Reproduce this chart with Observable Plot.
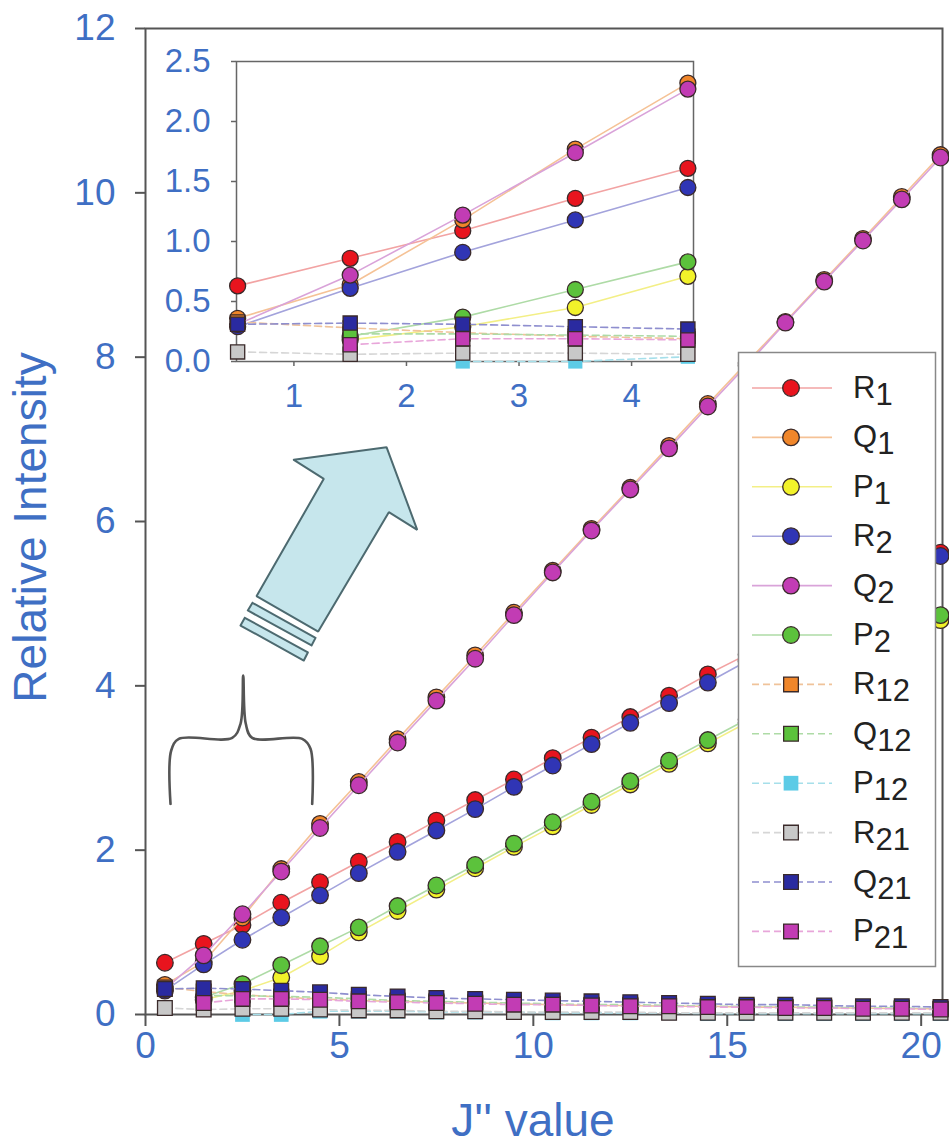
<!DOCTYPE html>
<html>
<head>
<meta charset="utf-8">
<script src="https://cdn.jsdelivr.net/npm/d3@7"></script>
<script src="https://cdn.jsdelivr.net/npm/@observablehq/plot@0.6"></script>
<style>
html,body{margin:0;padding:0;background:#fff;}
#wrap{position:relative;width:949px;height:1144px;overflow:hidden;background:#fff;}
#wrap svg{position:absolute;overflow:visible;}
</style>
</head>
<body>
<div id="wrap"></div>
<script>
// ---------- data ----------
const J = [0.5,1.5,2.5,3.5,4.5,5.5,6.5,7.5,8.5,9.5,10.5,11.5,12.5,13.5,14.5,15.5,16.5,17.5,18.5,19.5,20.5];

const R1  = [0.63,0.86,1.09,1.36,1.61,1.86,2.10,2.36,2.61,2.86,3.12,3.37,3.62,3.88,4.14,4.38,4.62,4.87,5.12,5.37,5.62];
const Q1  = [0.36,0.64,1.18,1.77,2.32,2.83,3.35,3.86,4.37,4.89,5.40,5.91,6.41,6.92,7.43,7.93,8.43,8.94,9.44,9.95,10.46];
const P1  = [null,0.18,0.29,0.45,0.71,1.00,1.26,1.52,1.78,2.04,2.29,2.55,2.80,3.05,3.30,3.55,3.80,4.05,4.30,4.55,4.80];
const R2  = [0.29,0.61,0.91,1.18,1.45,1.72,1.98,2.24,2.50,2.77,3.03,3.29,3.55,3.79,4.04,4.30,4.56,4.82,5.08,5.33,5.58];
const Q2  = [0.31,0.72,1.22,1.74,2.27,2.79,3.31,3.82,4.33,4.86,5.38,5.89,6.39,6.89,7.40,7.90,8.42,8.92,9.42,9.92,10.43];
const P2  = [null,0.21,0.37,0.60,0.83,1.06,1.32,1.57,1.82,2.08,2.34,2.59,2.84,3.09,3.34,3.59,3.85,4.10,4.35,4.60,4.86];
const R12 = [0.33,0.28,0.24,0.21,0.19,0.17,0.16,0.15,0.14,0.13,0.12,0.11,0.11,0.10,0.10,0.09,0.09,0.08,0.08,0.07,0.07];
const Q12 = [null,0.23,0.23,0.22,0.21,0.19,0.17,0.16,0.15,0.14,0.13,0.12,0.12,0.11,0.10,0.10,0.09,0.09,0.08,0.08,0.07];
const P12 = [null,null,0.00,0.00,0.04,0.04,0.04,0.03,0.03,0.03,0.02,0.02,0.02,0.02,0.01,0.01,0.01,0.01,0.01,0.01,0.01];
const R21 = [0.08,0.06,0.07,0.07,0.06,0.05,0.05,0.04,0.04,0.03,0.03,0.03,0.03,0.02,0.02,0.02,0.02,0.02,0.02,0.02,0.02];
const Q21 = [0.31,0.32,0.31,0.29,0.27,0.24,0.22,0.20,0.19,0.18,0.17,0.16,0.15,0.14,0.13,0.12,0.12,0.11,0.10,0.10,0.09];
const P21 = [null,0.14,0.19,0.19,0.18,0.16,0.15,0.14,0.13,0.12,0.12,0.11,0.10,0.10,0.09,0.09,0.08,0.08,0.07,0.07,0.06];

const seriesLetters = ["R","Q","P","R","Q","P","R","Q","P","R","Q","P"];
const seriesSubs    = ["1","1","1","2","2","2","12","12","12","21","21","21"];
const seriesValues  = [R1,Q1,P1,R2,Q2,P2,R12,Q12,P12,R21,Q21,P21];

const mainXTicks  = [0,5,10,15,20];
const mainYTicks  = [0,2,4,6,8,10,12];
const insetXTicks = [1,2,3,4];
const insetYTicks = [0,0.5,1,1.5,2,2.5];
const xTitle = "J'' value";
const yTitle = "Relative Intensity";

// annotation shapes (in main-chart data units)
const arrowX = [3.824,6.215,7.006,6.274,4.453,2.862,4.598,3.824];
const arrowY = [6.751,6.904,5.899,6.113,4.661,5.091,6.519,6.751];
const band1X = [2.759,4.384,4.281,2.638,2.759];
const band1Y = [5.010,4.584,4.491,4.917,5.010];
const band2X = [2.561,4.186,4.082,2.450,2.561];
const band2Y = [4.828,4.406,4.308,4.734,4.828];
const braceX = [0.645,0.663,0.859,2.236,2.450,2.519,2.586,2.751,4.041,4.255,4.298];
const braceY = [2.564,3.213,3.355,3.367,3.538,4.126,3.538,3.367,3.355,3.234,2.564];

// ---------- styles ----------
const blue = "#3f6fc4";
const font = "'Liberation Sans', Arial, sans-serif";
const lineColors   = ["#f2a3a3","#f5c296","#f3ef86","#a3a3dc","#d9a3d9","#aedba6",
                      "#f0c39a","#aedba6","#a6dfea","#d6d6d6","#8f8fcf","#e8a6da"];
const markerFills  = ["#e8141e","#f0862a","#f2f22a","#3035b5","#c23cb4","#5cc23c",
                      "#f0862a","#5cc23c","#5ccbe6","#c8c8c8","#2a2aa0","#c23cb4"];
const symbols = ["circle","circle","circle","circle","circle","circle",
                 "square","square","square","square","square","square"];
const dashed  = [false,false,false,false,false,false,true,true,true,true,true,true];
const edge = "#3a2a2a";

function rows(vals, maxJ) {
  return J.map((j,i) => ({j, v: vals[i]})).filter(p => p.v != null && p.j <= maxJ);
}
function seriesMarks(maxJ, r) {
  const marks = [];
  seriesValues.forEach((vals, k) => {
    const d = rows(vals, maxJ);
    const lo = {x:"j", y:"v", stroke: lineColors[k], strokeWidth: 1.6};
    if (dashed[k]) lo.strokeDasharray = "7,4";
    marks.push(Plot.line(d, lo));
    marks.push(Plot.dot(d, {x:"j", y:"v", symbol: symbols[k], r,
      fill: markerFills[k], stroke: k === 8 ? "none" : edge, strokeWidth: 1.3}));
  });
  return marks;
}
function poly(xs, ys) { return xs.map((x,i) => ({x, y: ys[i]})); }

// ---------- main chart ----------
const main = Plot.plot({
  width: 949, height: 1144,
  marginLeft: 145, marginRight: 7, marginTop: 28, marginBottom: 130,
  x: {domain: [0, 20.55]},
  y: {domain: [0, 12]},
  style: {fontFamily: font, background: "transparent", overflow: "visible"},
  marks: [
    Plot.frame({stroke: "#555", strokeWidth: 2}),
    Plot.axisY({ticks: mainYTicks, tickSize: 10, tickPadding: 20, fontSize: 37,
      fill: blue, stroke: "#555", strokeWidth: 2, label: null}),
    Plot.axisX({ticks: mainXTicks, tickSize: 12, tickPadding: 5, fontSize: 37,
      fill: blue, stroke: "#555", strokeWidth: 2, label: null}),
    Plot.line(poly(arrowX, arrowY), {x:"x", y:"y", fill:"#c6e6ec", stroke:"#4d6a70", strokeWidth: 2, strokeLinejoin:"miter"}),
    Plot.line(poly(band1X, band1Y), {x:"x", y:"y", fill:"#c6e6ec", stroke:"#4d6a70", strokeWidth: 2}),
    Plot.line(poly(band2X, band2Y), {x:"x", y:"y", fill:"#c6e6ec", stroke:"#4d6a70", strokeWidth: 2}),
    Plot.line(poly(braceX, braceY), {x:"x", y:"y", stroke:"#555", strokeWidth: 2.6, curve:"catmull-rom"}),
    ...seriesMarks(21, 8.3),
    Plot.text([xTitle], {text: d => d, frameAnchor: "bottom", textAnchor: "middle", dx: -11, dy: 121, fontSize: 46, fill: blue}),
    Plot.text([yTitle], {text: d => d, frameAnchor: "left", textAnchor: "middle", rotate: -90, dx: -114, dy: 6, fontSize: 46, fill: blue})
  ]
});
main.style.left = "0px"; main.style.top = "0px";

// ---------- inset ----------
const inset = Plot.plot({
  width: 553, height: 368,
  marginLeft: 86, marginRight: 10, marginTop: 20, marginBottom: 48,
  x: {domain: [0.49, 4.55]},
  y: {domain: [0, 2.5]},
  style: {fontFamily: font, background: "transparent", overflow: "visible"},
  marks: [
    Plot.frame({stroke: "#666", strokeWidth: 1.5}),
    Plot.axisY({ticks: insetYTicks, tickFormat: d3.format(".1f"), tickSize: 5, tickPadding: 21, fontSize: 33,
      fill: blue, stroke: "#666", strokeWidth: 1.5, label: null}),
    Plot.axisX({ticks: insetXTicks, tickFormat: d3.format("d"), tickSize: 5, tickPadding: 17, fontSize: 33,
      fill: blue, stroke: "#666", strokeWidth: 1.5, label: null}),
    ...seriesMarks(4.6, 8)
  ]
});
inset.style.left = "150px"; inset.style.top = "41px";

// ---------- legend ----------
const lg = d3.create("svg").attr("width", 949).attr("height", 1144)
  .style("left", "0px").style("top", "0px").style("font-family", font);
lg.append("rect").attr("x", 738.5).attr("y", 352.5).attr("width", 197).attr("height", 614)
  .attr("fill", "#fff").attr("stroke", "#888").attr("stroke-width", 1.5);
seriesLetters.forEach((L, k) => {
  const cy = 388 + k * 49.4;
  const g = lg.append("g");
  g.append("line").attr("x1", 752).attr("x2", 832).attr("y1", cy).attr("y2", cy)
    .attr("stroke", lineColors[k]).attr("stroke-width", 1.6)
    .attr("stroke-dasharray", dashed[k] ? "7,4" : null);
  const sym = d3.symbol(symbols[k] === "circle" ? d3.symbolCircle : d3.symbolSquare, Math.PI * 8.3 * 8.3);
  g.append("path").attr("d", sym()).attr("transform", `translate(791,${cy})`)
    .attr("fill", markerFills[k]).attr("stroke", k === 8 ? "none" : edge).attr("stroke-width", 1.3);
  const t = g.append("text").attr("x", 853).attr("y", cy + 10).attr("font-size", 31).attr("fill", "#222");
  t.append("tspan").text(L);
  t.append("tspan").attr("dy", 7).text(seriesSubs[k]);
});

const wrap = document.getElementById("wrap");
wrap.appendChild(main);
wrap.appendChild(inset);
wrap.appendChild(lg.node());
</script>
</body>
</html>
